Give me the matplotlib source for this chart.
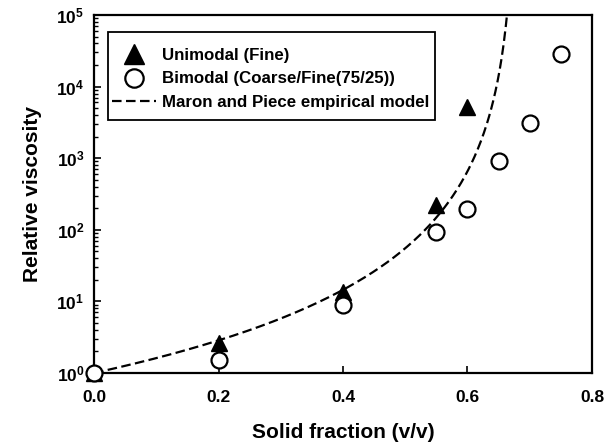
import numpy as np
import matplotlib
matplotlib.use("Agg")
import matplotlib.pyplot as plt
from matplotlib.patches import Rectangle
from matplotlib.ticker import FixedLocator, LogLocator, FuncFormatter, NullFormatter

plt.rcParams['font.family'] = ['Liberation Sans', 'DejaVu Sans']
plt.rcParams['font.weight'] = 'bold'
plt.rcParams['mathtext.fontset'] = 'custom'
plt.rcParams['mathtext.rm'] = 'Liberation Sans:bold'
plt.rcParams['mathtext.bf'] = 'Liberation Sans:bold'
plt.rcParams['mathtext.it'] = 'Liberation Sans:bold'

# Measured relative viscosity
uni_phi = [0.0, 0.2, 0.4, 0.55, 0.6]
uni_visc = [1.0, 2.6, 13.7, 222, 5200]

bi_phi = [0.0, 0.2, 0.4, 0.55, 0.6, 0.65, 0.7, 0.75]
bi_visc = [1.0, 1.5, 8.9, 92, 195, 900, 3100, 28500]

# Empirical model parameters
phi_max = 0.678
exponent = 3.0

x_ticks = [0.0, 0.2, 0.4, 0.6, 0.8]

fig = plt.figure(figsize=(6.05, 4.46), dpi=100)
ax = fig.add_axes([0.1554, 0.1637, 0.9785 - 0.1554, 0.9664 - 0.1637])

phi_model = np.linspace(0.0, 0.6665, 400)
visc_model = (1.0 - phi_model / phi_max) ** (-exponent)

ax.plot(uni_phi, uni_visc, linestyle='none', marker='^', markersize=12,
        color='black', label='Unimodal (Fine)', zorder=3, clip_on=False)
ax.plot(bi_phi, bi_visc, linestyle='none', marker='o', markersize=11.5,
        markerfacecolor='white', markeredgecolor='black', markeredgewidth=1.6,
        label='Bimodal (Coarse/Fine(75/25))', zorder=4, clip_on=False)
ax.plot(phi_model, visc_model, linestyle=(0, (4.3, 2.0)), color='black', linewidth=1.6,
        label='Maron and Piece empirical model', zorder=2)

ax.set_yscale('log')
ax.set_xlim(0.0, 0.8)
ax.set_ylim(1, 1e5)

ax.xaxis.set_major_locator(FixedLocator(x_ticks))
ax.xaxis.set_major_formatter(FuncFormatter(lambda v, p: f'{v:.1f}'))
ax.yaxis.set_major_locator(LogLocator(base=10, numticks=10))
ax.yaxis.set_minor_locator(LogLocator(base=10, subs=np.arange(2, 10), numticks=10))
ax.yaxis.set_minor_formatter(NullFormatter())
ax.yaxis.set_major_formatter(FuncFormatter(lambda v, p: r'$\mathbf{10^{%d}}$' % int(round(np.log10(v)))))

ax.tick_params(axis='both', which='major', direction='in', length=5, width=1.2,
               labelsize=12.5, pad=7)
ax.tick_params(axis='y', which='minor', direction='in', length=3, width=1.0)
ax.tick_params(axis='x', which='major', pad=12)
for lab in ax.get_xticklabels() + ax.get_yticklabels():
    lab.set_fontweight('bold')

for s in ax.spines.values():
    s.set_linewidth(1.6)

ax.set_xlabel('Solid fraction (v/v)', fontsize=15, fontweight='bold', labelpad=13)
ax.set_ylabel('Relative viscosity', fontsize=15, fontweight='bold', labelpad=10)

# Legend entries without their own frame; a separate box surrounds them
leg = ax.legend(loc='center', bbox_to_anchor=(0.448, 0.8229),
                bbox_transform=fig.transFigure, fontsize=12.2, frameon=False,
                handlelength=2.6, handletextpad=0.36, borderpad=0.0, labelspacing=0.5,
                markerscale=1.15)
for t in leg.get_texts():
    t.set_fontweight('bold')

box = Rectangle((0.1785, 0.7309), 0.5405, 0.1973, transform=fig.transFigure,
                facecolor='white', edgecolor='black', linewidth=1.3, zorder=5)
ax.add_patch(box)
leg.set_zorder(6)

fig.savefig('out.png', dpi=100)
